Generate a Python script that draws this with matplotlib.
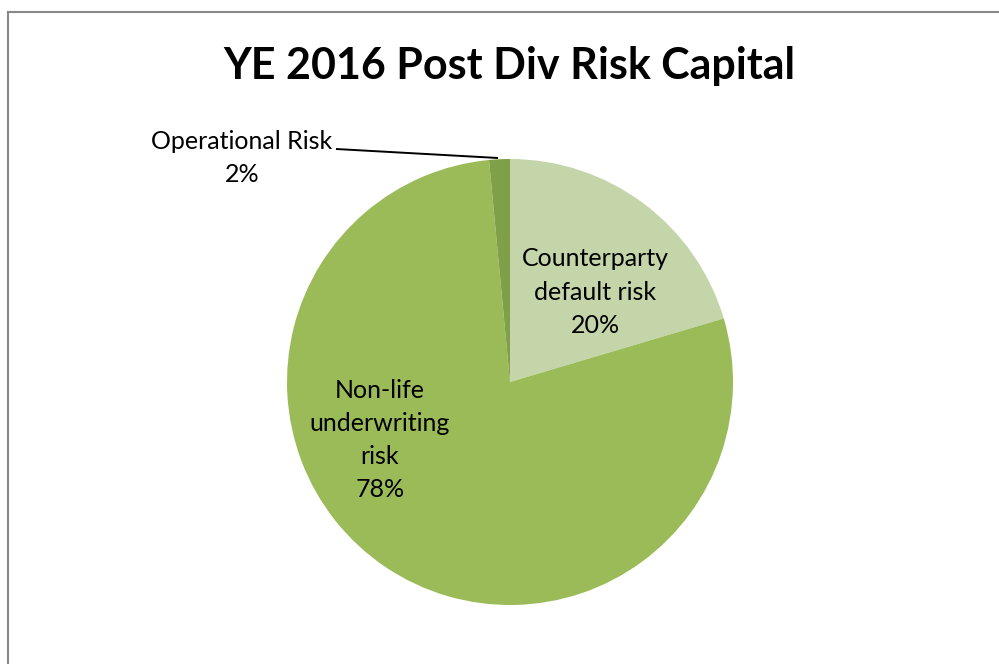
import matplotlib.pyplot as plt
from matplotlib.lines import Line2D

plt.rcParams['font.family'] = ['Lato', 'DejaVu Sans']

# risk capital split (percent)
categories = ['Counterparty\ndefault risk', 'Non-life\nunderwriting\nrisk', 'Operational Risk']
shares = [20.4, 78.1, 1.5]
colors = ['#c4d6a9', '#9bbb59', '#7f9f48']

W, H = 999, 664
fig = plt.figure(figsize=(W / 100, H / 100), dpi=100)
ax = fig.add_axes([0, 0, 1, 1])

cx, cy, r = 510, H - 382, 223
ax.pie(shares, colors=colors, startangle=90, counterclock=False,
       center=(cx, cy), radius=r, frame=True,
       wedgeprops=dict(linewidth=0))
ax.set_xlim(0, W)
ax.set_ylim(0, H)
ax.set_aspect('equal', adjustable='box')
ax.axis('off')

# data labels, placed like the spreadsheet's default layout
label_pos = [(595, H - 292), (380, H - 440), (242, H - 158)]
for name, val, (x, y) in zip(categories, shares, label_pos):
    ax.text(x, y, f'{name}\n{val:.0f}%', ha='center', va='center',
            fontsize=18, linespacing=1.53, color='black')

# leader line for the small slice
ax.plot([336, 498], [H - 149, H - 158], color='black', lw=1.4,
        solid_capstyle='butt')

ax.text(W / 2 + 10, H - 66, 'YE 2016 Post Div Risk Capital', ha='center',
        va='center', fontsize=31, fontweight='bold')

# chart area border (left and top edges visible)
fig.add_artist(Line2D([8 / W, 8 / W], [0, 1 - 12 / H], color='#888888', lw=1.5,
                      transform=fig.transFigure))
fig.add_artist(Line2D([8 / W, 1], [1 - 12 / H, 1 - 12 / H], color='#888888',
                      lw=1.5, transform=fig.transFigure))

fig.savefig('out.png', dpi=100)
